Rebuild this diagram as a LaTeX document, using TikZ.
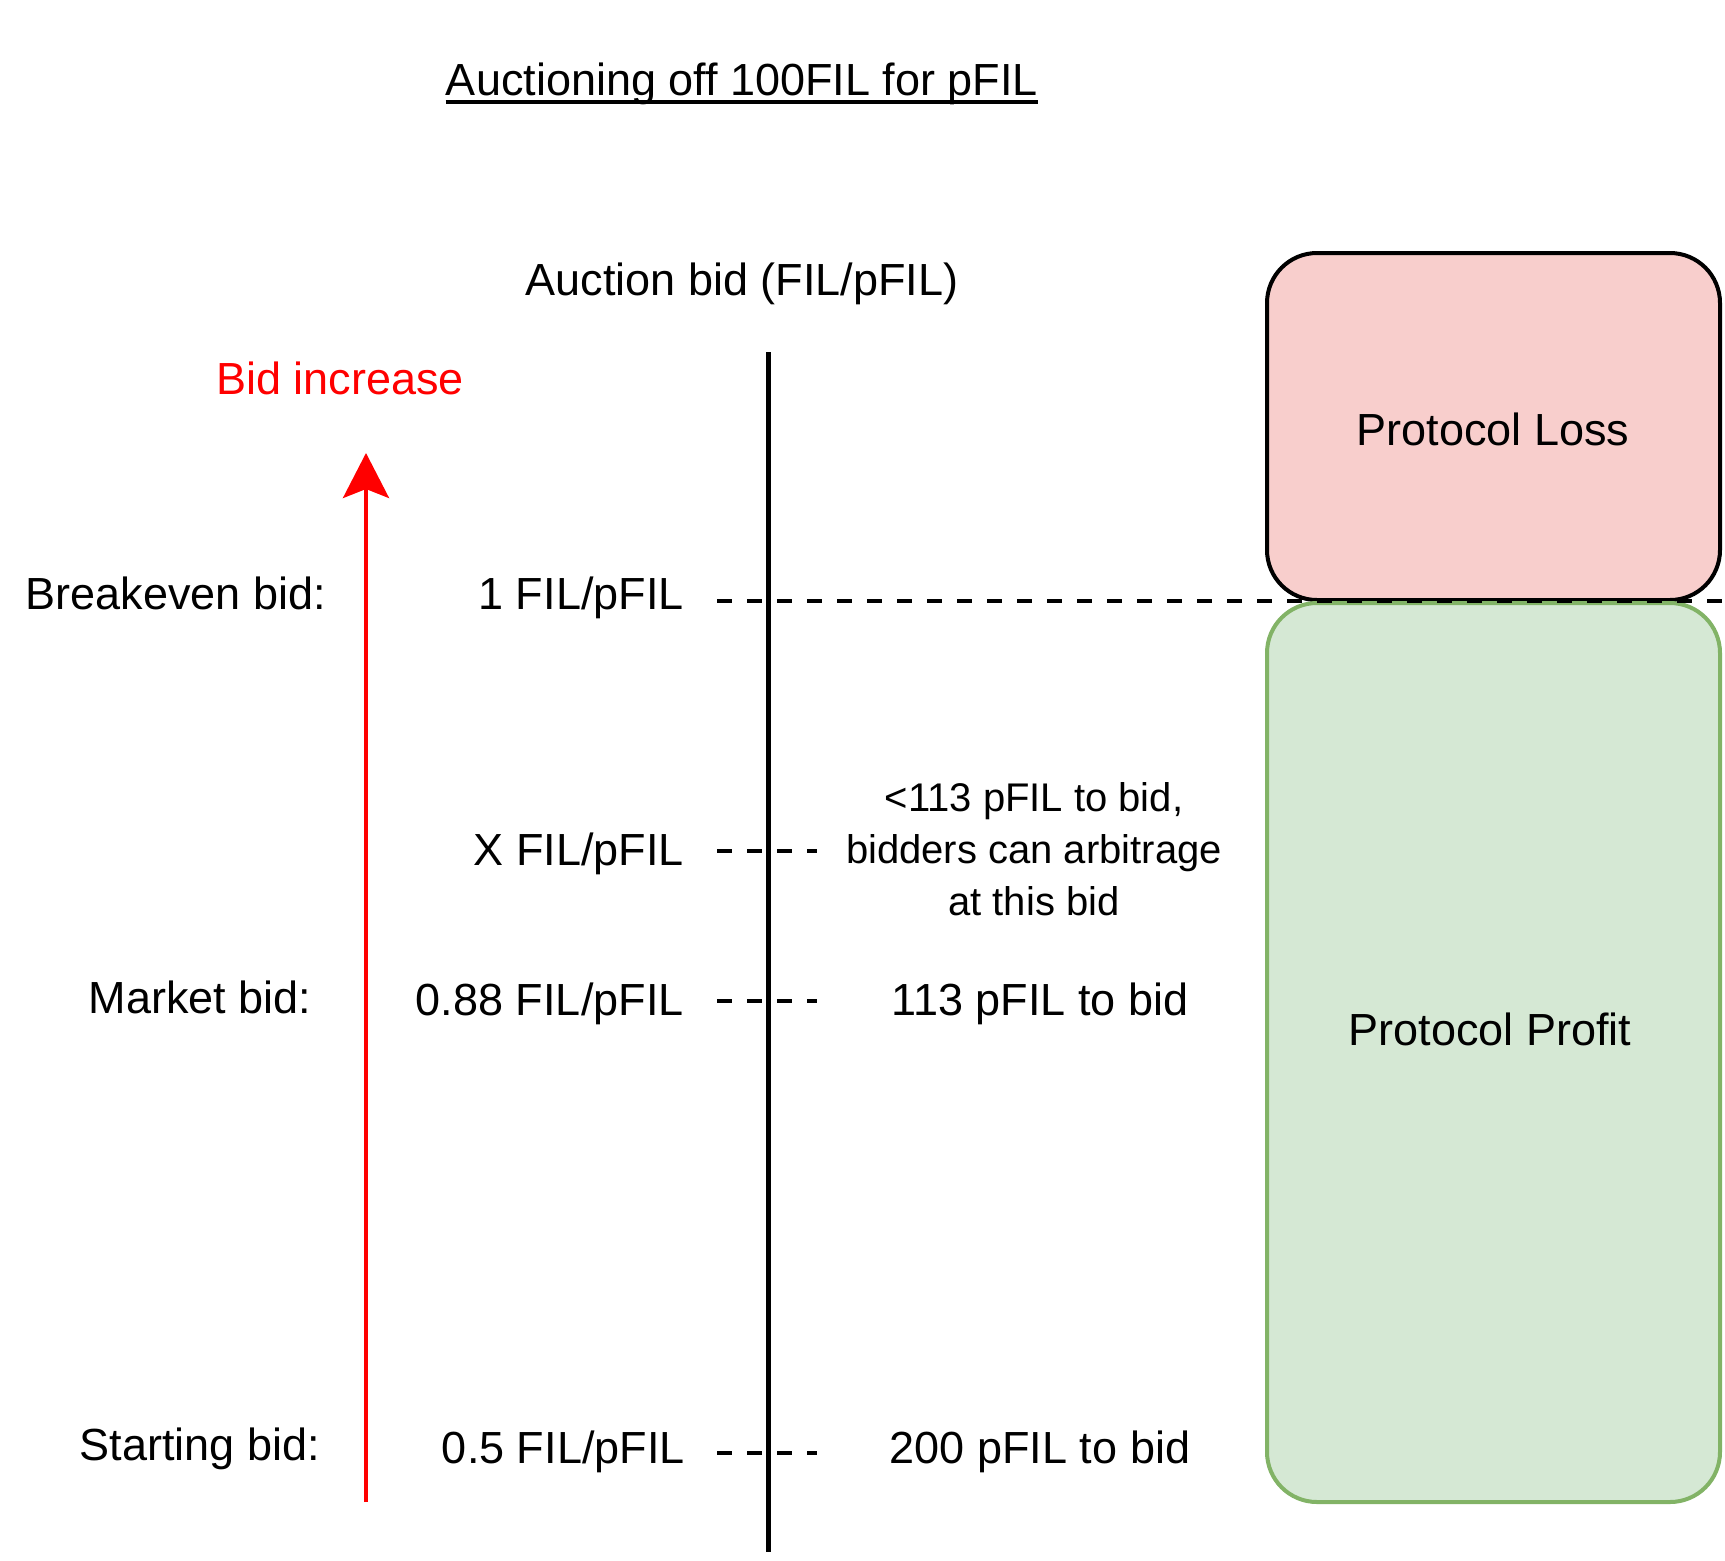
\documentclass[tikz,border=0pt]{standalone}
\usepackage{fontspec}
\setmainfont{Liberation Sans}
\usetikzlibrary{arrows.meta}
\definecolor{lossfill}{HTML}{F8CECC}
\definecolor{profitfill}{HTML}{D5E8D4}
\definecolor{profitdraw}{HTML}{82B366}
\begin{document}
\begin{tikzpicture}[x=0.5pt,y=-0.5pt,
  big/.style={font=\fontsize{22.5pt}{27pt}\selectfont, inner sep=0pt},
  small/.style={font=\fontsize{20pt}{26pt}\selectfont, inner sep=0pt, align=center},
  bidline/.style={line width=2.4pt, dash pattern=on 7.5pt off 7.5pt},
  region/.style={rounded corners=25pt, line width=2pt}]
\useasboundingbox (0,0) rectangle (1725,1560);
% boxes
\draw[region, fill=lossfill, draw=black] (1267,253) rectangle (1720,600);
\draw[region, fill=profitfill, draw=profitdraw] (1267,603) rectangle (1720,1502);
\node[big] (loss) at (1493,429) {Protocol Loss};
\node[big] (profit) at (1490,1029) {Protocol Profit};
% title
\node[big, anchor=base] (title) at (742,95) {Auctioning off 100FIL for pFIL};
\draw[line width=2pt] ([yshift=-3.4pt]title.base west) -- ([yshift=-3.4pt]title.base east);
\node[big, anchor=base] (axislabel) at (742,295) {Auction bid (FIL/pFIL)};
% axis
\coordinate (axtop) at (768,352);
\coordinate (axbot) at (768,1552);
\draw[line width=2.5pt] (axtop) -- (axbot);
% red arrow
\coordinate (rbot) at (366,1502);
\coordinate (rtop) at (366,453);
\draw[red, line width=2pt, -{Stealth[length=22.5pt,width=23pt,inset=4.5pt]}] (rbot) -- (rtop);
\node[big, text=red, anchor=base] (inc) at (340,394) {Bid increase};
% left labels
\node[big, anchor=base] (be) at (176,609) {Breakeven bid:};
\node[big, anchor=base] (mk) at (200,1013) {Market bid:};
\node[big, anchor=base] (st) at (200,1460) {Starting bid:};
% values
\node[big, anchor=base east] (v1) at (684,609) {1 FIL/pFIL};
\node[big, anchor=base east] (vx) at (684,865) {X FIL/pFIL};
\node[big, anchor=base east] (v88) at (684,1015) {0.88 FIL/pFIL};
\node[big, anchor=base east] (v5) at (685,1463) {0.5 FIL/pFIL};
% dashed lines
\coordinate (b1) at (717,601);
\coordinate (b2) at (1725,601);
\draw[bidline] (b1) -- (b2);
\coordinate (x1) at (717,851);
\coordinate (x2) at (817,851);
\draw[bidline] (x1) -- (x2);
\coordinate (m1) at (717,1001);
\coordinate (m2) at (817,1001);
\draw[bidline] (m1) -- (m2);
\coordinate (s1) at (717,1453);
\coordinate (s2) at (817,1453);
\draw[bidline] (s1) -- (s2);
% right texts
\node[small] (arb) at (1034,849) {<113 pFIL to bid,\\bidders can arbitrage\\at this bid};
\node[big, anchor=base] (r88) at (1040,1015) {113 pFIL to bid};
\node[big, anchor=base] (r5) at (1040,1463) {200 pFIL to bid};
\end{tikzpicture}
\end{document}
